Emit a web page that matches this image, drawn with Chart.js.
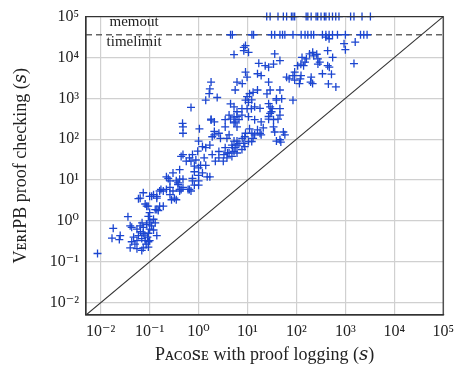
<!DOCTYPE html>
<html><head><meta charset="utf-8">
<script src="https://cdn.jsdelivr.net/npm/chart.js@4.4.0/dist/chart.umd.min.js"></script>
<style>html,body{margin:0;padding:0;background:#fff;}#wrap{width:461px;height:369px;}</style>
</head><body><div id="wrap"><canvas id="c" width="461" height="369"></canvas></div>
<script>
// Solved instances: [Pacose with proof logging (s), VeriPB proof checking (s)]
const solvedPoints = [
[0.0086,0.16],[0.018,0.66],[0.017,0.38],[0.025,0.44],[0.024,0.35],[0.036,1.27],[0.040,0.76],
[0.059,3.5],[0.074,4.9],[0.12,4.4],[0.093,2.3],[0.14,1.9],[0.24,11],[0.38,8.5],[0.44,5.9],
[0.17,5.9],[0.26,4.4],[0.28,3.3],[0.35,3.3],[0.22,5.9],
[0.043,0.70],[0.055,0.63],[0.064,0.76],[0.074,0.70],[0.087,0.82],[0.10,0.63],[0.094,0.50],
[0.074,0.50],[0.059,0.44],[0.047,0.40],[0.043,0.31],[0.055,0.33],[0.069,0.37],[0.081,0.33],
[0.094,0.31],[0.040,0.22],[0.055,0.21],[0.074,0.22],[0.094,0.23],[0.14,0.44],[0.11,0.76],
[0.12,1.1],[0.10,1.0],[0.094,1.3],[0.10,1.6],[0.13,1.9],[0.16,2.3],[0.15,1.8],[0.087,2.3],
[0.11,4.0],[0.14,4.0],[0.19,5.4],[0.30,5.4],[0.32,3.6],[0.41,5.9],[0.26,9.6],[0.48,10.5],
[0.61,5.9],[0.069,0.19],[0.82,7.5],[1.0,7.5],[0.65,5.9],[0.19,2.3],[0.13,0.9],[0.10,0.33],
[0.12,0.6],[0.05,0.27],[0.085,0.27],[0.065,0.55],[0.08,0.45],[0.09,0.4],[0.07,0.9],[0.10,0.9],
[0.14,3.6],[0.064,3.6],[0.081,2.6],[0.22,12],[0.41,10.5],
[0.47,245],[0.48,200],[0.48,140],[1.04,180],[1.8,295],[2.1,155],[2.6,140],[3.5,200],[4.5,310],
[5.6,265],[6.1,355],[4.2,128],[5.3,90],[6.1,72],[4.9,62],[3.9,46],[3.3,42],[2.6,35],[2.2,29],
[1.7,72],[1.4,62],[1.2,66],[1.0,90],[0.96,51],[0.75,42],[0.65,35],[0.48,42],[0.56,29],[0.70,29],
[0.88,31],[0.82,22],[1.1,23],[1.4,23],[1.7,12],[1.2,15],[1.0,13],[0.75,11],[1.0,9.6],[0.75,9.6],
[0.41,18],[0.30,15],[0.35,9.6],[0.38,7.7],[0.48,6.6],[0.41,5.4],[0.26,6.6],
[0.16,5.4],[0.10,4.0],[0.70,5.4],[3.5,62],[4.2,46],
[1.0,20],[0.82,16],[1.5,12],[0.44,38],[1.3,35],[1.9,42],[2.6,50],[4.8,72],[3.5,300],[4.2,390],
[8.8,66],[7.7,56],[6.1,46],[4.8,38],[3.8,35],[3.2,29],[12.2,88],[21,190],[34,200],
[1.8,2500],[1.7,1700],[1.65,1300],[1.4,900],[2.4,1050],[0.70,600],[5.6,1600],[6.1,2500],[7.8,2300],
[9.1,4400],[9.8,3300],[17,7200],[23,6300],[34,6900],[16,4000],[19,3600],[27,2500],[29,1600],
[46,1600],[11,1300],[13,1400],[9.8,1100],[9.1,900],[10.5,800],[14,620],[18,570],[27,740],[39,900],
[31,470],[27,360],[34,300],[46,390],[5.3,620],[6.1,470],[5.3,350],[6.7,300],[5.3,250],[6.1,200],
[1.8,310],[2.1,265],[14,300],[11,180],[16,170],[19,128],[9.1,140],[7.8,105],[6.1,90],[2.1,128],
[1.9,115],[2.8,105],[3.8,105],[36,150],[46,97],
[36,12200],[46,8400],[27,5800],[39,980],[50,980],[85,900],[63,3300],[71,3000],[85,3600],[92,2800],
[124,3600],[115,2300],[200,3300],[214,2300],[340,4000],[450,2250],[435,6300],[300,7700],[140,6300],
[123,6850],[150,7700],[160,9200],[185,12200],[215,13400],[225,11000],[275,9200],[550,10000],
[435,14700],[940,21800],[1000,15500],[1590,23800],[1500,7100],[400,31500],[465,28700],[520,3900],
[8.4,17600],[9.1,19500],[8.4,14700],[10.5,13400],[5.3,11800],
[16,1600],[25,1280],[32,560],[19,265],[9.8,560],[7.7,390],[4.5,735],[92,4400],[120,3000],[195,2500],
[640,1900],[106,6300],[130,10000],[260,12000],[275,6900],[470,5800],
[54,150],[58,128],[39,90],[48,85],[12.3,140],[14,128],[18,140],[13,105],[8.8,115],[10.5,88],[8.4,79],
[6.7,79],[5.6,63],[5.3,50],[27,310],[42,310],[29,430],[46,560],[12,560],
[12.2,920],[29,620],[7.7,560],[10.5,355]
];
// Pacose times of instances where VeriPB hit the time limit
const timelimitX = [4.5,4.9,12.3,13.3,31,36,46,52,58,85,125,150,171,200,225,340,400,465,546,690,1000,2040,2380,2780];
// Pacose times of instances where VeriPB ran out of memory
const memoutX = [24.7,29,42,54,63,79,85,92,158,171,200,252,272,318,372,400,468,546,636,740,1280,1500,2190,3250];
const TIMELIMIT = 36000;
const MEMOUT = 100000;
const AXIS_MIN = 0.005, AXIS_MAX = 100000;
const tickValues = [0.01,0.1,1,10,100,1000,10000,100000];
const tickLabels = ['10⁻²','10⁻¹','10⁰','10¹','10²','10³','10⁴','10⁵'];
const xTitle = 'Pᴀᴄᴏꜱᴇ with proof logging (𝑠)';
const yTitle = 'VᴇʀɪPB proof checking (𝑠)';
const annotations = [{text:'memout', x:0.048, y:74000},{text:'timelimit', x:0.048, y:23400}];

const SERIF = "'Liberation Serif', 'DejaVu Serif', serif";
const BLUE = '#1c46d0';

function logAxis(pos, title, fit) {
  return {
    type: 'logarithmic', position: pos, min: AXIS_MIN, max: AXIS_MAX,
    afterBuildTicks: s => { s.ticks = tickValues.map(v => ({value: v})); },
    afterFit: fit,
    ticks: { callback: (v, i) => tickLabels[i], font: {family: SERIF, size: 16}, color: '#222',
             padding: 7, maxRotation: 0, autoSkip: false },
    grid: { color: '#d0d0d0', lineWidth: 1.2, drawTicks: false },
    border: { display: true, color: '#333', width: 1.2 },
    title: title
  };
}

const framePlugin = {
  id: 'frame',
  afterDraw(chart) {
    const {ctx, chartArea: a, scales} = chart;
    ctx.save();
    ctx.strokeStyle = '#333'; ctx.lineWidth = 1.2;
    ctx.strokeRect(a.left, a.top, a.right - a.left, a.bottom - a.top);
    ctx.fillStyle = '#222';
    ctx.font = '15px ' + SERIF;
    ctx.textAlign = 'center'; ctx.textBaseline = 'middle';
    annotations.forEach(t => ctx.fillText(t.text, scales.x.getPixelForValue(t.x), scales.y.getPixelForValue(t.y)));
    ctx.restore();
  }
};

const markStyle = { pointStyle: 'cross', pointRadius: 4, borderColor: BLUE, backgroundColor: BLUE,
                    borderWidth: 1.3, clip: false, order: 0 };

new Chart(document.getElementById('c'), {
  type: 'scatter',
  data: { datasets: [
    Object.assign({ label: 'solved', data: solvedPoints.map(p => ({x: p[0], y: p[1]})) }, markStyle),
    Object.assign({ label: 'timelimit', data: timelimitX.map(x => ({x: x, y: TIMELIMIT})) }, markStyle),
    Object.assign({ label: 'memout', data: memoutX.map(x => ({x: x, y: MEMOUT})) }, markStyle),
    { type: 'line', label: 'timelimit line', data: [{x: AXIS_MIN, y: TIMELIMIT}, {x: AXIS_MAX, y: TIMELIMIT}],
      borderColor: '#666', borderWidth: 1.3, borderDash: [6, 4], pointRadius: 0, order: 2 },
    { type: 'line', label: 'diagonal', data: [{x: AXIS_MIN, y: AXIS_MIN}, {x: AXIS_MAX, y: AXIS_MAX}],
      borderColor: '#333', borderWidth: 1.1, pointRadius: 0, order: 1 }
  ]},
  options: {
    responsive: false, animation: false, devicePixelRatio: 1,
    layout: { padding: {left: 0, right: 14, top: 14, bottom: 0} },
    plugins: { legend: {display: false}, tooltip: {enabled: false} },
    scales: {
      x: logAxis('bottom', {display: true, text: xTitle, font: {family: SERIF, size: 18}, color: '#222', padding: {top: 0, bottom: 3}},
                 s => { s.height = 54; }),
      y: logAxis('left', {display: true, text: yTitle, font: {family: SERIF, size: 18}, color: '#222', padding: {top: 10, bottom: 0}},
                 s => { s.width = 86; })
    }
  },
  plugins: [framePlugin]
});
</script></body></html>
